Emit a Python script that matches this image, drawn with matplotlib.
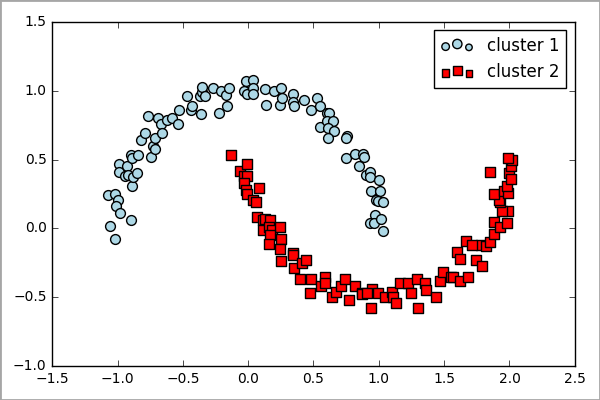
import matplotlib
matplotlib.use('Agg')
import matplotlib.pyplot as plt
from matplotlib.legend_handler import HandlerPathCollection
from matplotlib.patches import Rectangle

plt.style.use('classic')
plt.rcParams['xtick.labelsize'] = 10
plt.rcParams['ytick.labelsize'] = 10

# cluster 1 (upper moon)
x1 = [-1.07, -1.02, -1.00, -1.01, -0.98, -1.06, -1.02, -0.90, -0.99, -0.99,
      -0.94, -0.93, -0.92, -0.90, -0.89, -0.89, -0.88, -0.85, -0.84, -0.82,
      -0.79, -0.77, -0.74, -0.73, -0.71, -0.71, -0.69, -0.67, -0.66, -0.62,
      -0.58, -0.54, -0.53, -0.47, -0.44, -0.43, -0.36, -0.37, -0.35, -0.35,
      -0.33, -0.27, -0.22, -0.21, -0.17, -0.16, -0.15, -0.03, -0.02, -0.01,
      0.04, 0.04, 0.04, 0.13, 0.14, 0.20, 0.24, 0.25, 0.26, 0.34,
      0.34, 0.35, 0.43, 0.48, 0.53, 0.55, 0.55, 0.60, 0.62, 0.60,
      0.65, 0.61, 0.66, 0.61, 0.76, 0.75, 0.75, 0.82, 0.88, 0.89,
      0.85, 0.90, 0.93, 0.93, 1.00, 0.94, 1.01, 0.98, 0.99, 1.03,
      0.97, 0.93, 0.96, 1.02, 1.03]
y1 = [0.24, 0.25, 0.21, 0.16, 0.11, 0.02, -0.08, 0.06, 0.47, 0.41,
      0.38, 0.45, 0.39, 0.53, 0.51, 0.31, 0.37, 0.40, 0.53, 0.64,
      0.69, 0.82, 0.52, 0.60, 0.58, 0.66, 0.80, 0.76, 0.69, 0.79,
      0.80, 0.76, 0.86, 0.96, 0.86, 0.89, 0.83, 0.96, 0.99, 1.03,
      0.96, 1.02, 0.84, 1.00, 0.97, 0.89, 1.02, 1.00, 1.07, 0.98,
      1.08, 1.02, 0.98, 1.01, 0.90, 1.00, 0.90, 1.02, 0.95, 0.98,
      0.92, 0.89, 0.93, 0.86, 0.95, 0.89, 0.74, 0.84, 0.84, 0.78,
      0.78, 0.73, 0.71, 0.66, 0.67, 0.66, 0.51, 0.54, 0.54, 0.52,
      0.45, 0.39, 0.41, 0.37, 0.35, 0.27, 0.27, 0.21, 0.20, 0.19,
      0.10, 0.04, 0.04, 0.07, -0.02]

# cluster 2 (lower moon)
x2 = [-0.13, -0.06, -0.01, -0.03, -0.01, -0.03, -0.02, -0.01, 0.08, 0.04,
      0.06, 0.07, 0.11, 0.13, 0.17, 0.11, 0.16, 0.18, 0.24, 0.17,
      0.16, 0.25, 0.24, 0.25, 0.34, 0.34, 0.35, 0.41, 0.44, 0.40,
      0.48, 0.47, 0.56, 0.59, 0.59, 0.64, 0.67, 0.71, 0.74, 0.77,
      0.82, 0.87, 0.87, 0.94, 0.95, 0.91, 0.99, 1.05, 1.10, 1.11,
      1.13, 1.16, 1.22, 1.25, 1.29, 1.30, 1.35, 1.36, 1.44, 1.47,
      1.49, 1.55, 1.57, 1.62, 1.68, 1.60, 1.62, 1.67, 1.74, 1.78,
      1.79, 1.82, 1.85, 1.88, 1.88, 1.93, 1.98, 1.99, 1.94, 1.93,
      1.92, 1.88, 1.96, 1.99, 1.98, 2.00, 2.01, 2.01, 2.02, 1.99,
      1.85, 1.71]
y2 = [0.53, 0.42, 0.47, 0.38, 0.38, 0.33, 0.28, 0.25, 0.29, 0.21,
      0.19, 0.08, 0.06, 0.07, 0.06, -0.01, 0.01, -0.01, 0.01, -0.05,
      -0.11, -0.08, -0.15, -0.24, -0.18, -0.19, -0.29, -0.25, -0.23, -0.37,
      -0.37, -0.47, -0.42, -0.35, -0.40, -0.50, -0.46, -0.42, -0.37, -0.52,
      -0.42, -0.47, -0.48, -0.58, -0.44, -0.47, -0.47, -0.50, -0.46, -0.50,
      -0.54, -0.40, -0.40, -0.47, -0.37, -0.58, -0.40, -0.45, -0.50, -0.38,
      -0.32, -0.35, -0.35, -0.38, -0.35, -0.17, -0.22, -0.09, -0.23, -0.12,
      -0.27, -0.13, -0.10, -0.04, 0.05, 0.01, 0.04, 0.13, 0.13, 0.19,
      0.21, 0.25, 0.27, 0.26, 0.31, 0.40, 0.36, 0.45, 0.50, 0.51,
      0.41, -0.12]

fig = plt.figure(figsize=(6, 4), dpi=100, facecolor='white')
ax = fig.add_axes([0.087, 0.085, 0.871, 0.86])

s1 = ax.scatter(x1, y1, c='lightblue', marker='o', s=50, edgecolor='black', label='cluster 1')
s2 = ax.scatter(x2, y2, c='red', marker='s', s=50, edgecolor='black', label='cluster 2')

ax.set_xlim(-1.5, 2.5)
ax.set_ylim(-1.0, 1.5)

# old-style legend: three markers of varying size
hnd = HandlerPathCollection(sizes=[30, 45, 22], yoffsets=[0.375, 0.6, 0.3125])
ax.legend(loc='upper right', scatterpoints=3, fontsize=12,
          handler_map={s1: hnd, s2: hnd})

# thin grey frame round the picture
fig.patches.append(Rectangle((0, 0), 1, 1, transform=fig.transFigure,
                             fill=False, edgecolor='0.65', linewidth=2))

fig.savefig('out.png', dpi=100, facecolor='white')
